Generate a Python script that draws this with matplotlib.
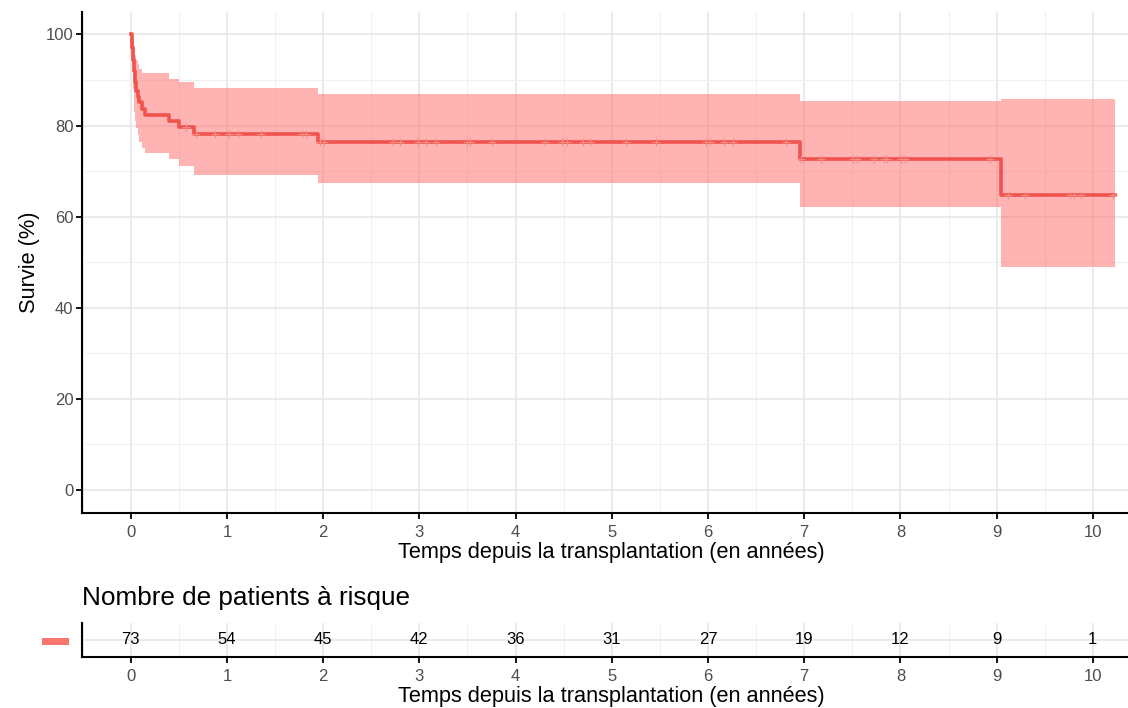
import numpy as np
import matplotlib
matplotlib.use("Agg")
import matplotlib.pyplot as plt
from matplotlib.patches import Rectangle
from matplotlib.ticker import MultipleLocator

plt.rcParams['font.family'] = ['Liberation Sans', 'DejaVu Sans']

# ---- data ----
time = [0, 0.01, 0.02, 0.03, 0.04, 0.05, 0.07, 0.09, 0.12, 0.15, 0.40, 0.50, 0.66, 1.95, 6.96, 9.05, 10.23]
surv = [100, 97.0, 94.5, 92.0, 89.5, 87.5, 86.3, 85.2, 83.7, 82.3, 81.1, 79.7, 78.1, 76.4, 72.7, 64.7, 64.7]
upper = [100, 100, 99.0, 97.5, 95.5, 94.5, 93.5, 92.5, 91.6, 91.6, 90.3, 89.6, 88.3, 87.0, 85.3, 85.9, 85.9]
lower = [100, 94.0, 88.0, 83.0, 81.0, 79.5, 78.0, 76.5, 75.0, 74.0, 72.7, 71.1, 69.2, 67.3, 62.1, 48.9, 48.9]
censor_times = [0.57, 0.675, 0.88, 1.02, 1.11, 1.35, 1.78, 1.82, 1.97, 2.01, 2.73, 2.80, 2.99,
                3.07, 3.17, 3.50, 3.53, 3.75, 4.31, 4.48, 4.53, 4.70, 4.77, 5.15, 5.46, 5.98,
                6.02, 6.17, 6.26, 6.81, 6.97, 7.17, 7.51, 7.55, 7.72, 7.83, 7.86, 8.01, 8.05,
                8.93, 9.12, 9.29, 9.76, 9.80, 9.88, 10.21]
risk_times = [0, 1, 2, 3, 4, 5, 6, 7, 8, 9, 10]
risk_counts = [73, 54, 45, 42, 36, 31, 27, 19, 12, 9, 1]
y_ticks = [0, 20, 40, 60, 80, 100]
x_label = "Temps depuis la transplantation (en années)"
y_label = "Survie (%)"
table_title = "Nombre de patients à risque"

LINE = '#F0524C'
BAND = '#FF6E6E'
STRATA = '#F8766D'
GRID_MAJ = '#E6E6E6'
GRID_MIN = '#F0F0F0'
TICK_TXT = '#4D4D4D'

W, H = 1128, 708
fig = plt.figure(figsize=(W / 100, H / 100), dpi=100)

X_LIM = (-0.51, 10.49)
PANEL_L, PANEL_R = 81.7, 1140.0


def px_axes(l, t, r, b):
    return fig.add_axes([l / W, 1 - b / H, (r - l) / W, (b - t) / H])


def style(ax):
    for s in ['top', 'right']:
        ax.spines[s].set_visible(False)
    for s in ['left', 'bottom']:
        ax.spines[s].set_linewidth(1.5)
        ax.spines[s].set_color('black')
    ax.xaxis.set_major_locator(MultipleLocator(1))
    ax.xaxis.set_minor_locator(MultipleLocator(0.5))
    ax.grid(which='major', color=GRID_MAJ, lw=1.1, zorder=0)
    ax.grid(which='minor', color=GRID_MIN, lw=0.8, zorder=0)
    ax.set_axisbelow(True)
    ax.tick_params(which='major', length=4, width=1.3, color='black',
                   labelsize=12, labelcolor=TICK_TXT)
    ax.tick_params(axis='x', pad=5)
    ax.tick_params(axis='y', pad=2)
    ax.tick_params(which='minor', length=0)


# ---- main survival plot ----
ax = px_axes(PANEL_L, 11.7, PANEL_R, 512.7)
style(ax)
ax.set_xlim(*X_LIM)
ax.set_ylim(-5, 105)
ax.yaxis.set_major_locator(MultipleLocator(20))
ax.yaxis.set_minor_locator(MultipleLocator(10))
ax.set_yticks(y_ticks)

ax.fill_between(time, lower, upper, step='post', color=BAND, alpha=0.52, lw=0, zorder=2)
ax.step(time, surv, where='post', color=LINE, lw=2.6, zorder=3)

t_arr = np.array(time)
s_arr = np.array(surv)
idx = np.searchsorted(t_arr, censor_times, side='right') - 1
ax.plot(censor_times, s_arr[idx], ls='none', marker='+', ms=6, mew=0.8,
        color='#F58C88', zorder=4)

ax.set_xlabel(x_label, fontsize=15.7, labelpad=1.5)
ax.set_ylabel(y_label, fontsize=15.7, labelpad=4)

# ---- risk table ----
fig.text(82 / W, 1 - 598 / H, table_title, fontsize=18.8, ha='left', va='center')

rt = px_axes(PANEL_L, 622.7, PANEL_R, 656.7)
style(rt)
rt.set_xlim(*X_LIM)
rt.set_ylim(-0.5, 0.5)
rt.set_yticks([0])
rt.set_yticklabels([''])
rt.tick_params(axis='y', length=0)
for t, n in zip(risk_times, risk_counts):
    rt.text(t, 0.0, str(n), ha='center', va='center', fontsize=12, color='black', zorder=3)
rt.set_xlabel(x_label, fontsize=15.7, labelpad=1.0)

fig.patches.append(Rectangle((42 / W, 1 - 645 / H), 27 / W, 7 / H,
                             transform=fig.transFigure, color=STRATA, lw=0))

fig.savefig('out.png', dpi=100)
